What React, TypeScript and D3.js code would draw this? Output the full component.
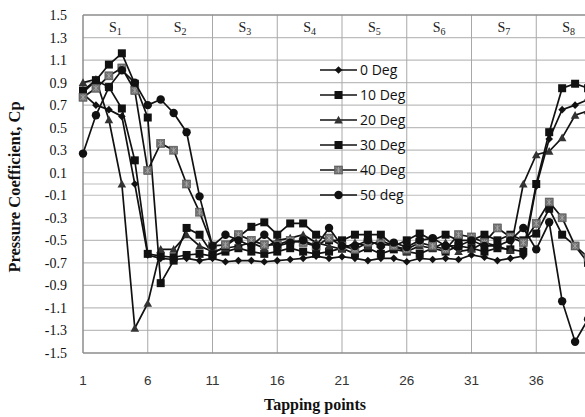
import React from "react";
import * as d3 from "d3";

const tapping = [1,2,3,4,5,6,7,8,9,10,11,12,13,14,15,16,17,18,19,20,21,22,23,24,25,26,27,28,29,30,31,32,33,34,35,36,37,38,39,40];
const xTicks = [1, 6, 11, 16, 21, 26, 31, 36];
const yTicks = [1.5, 1.3, 1.1, 0.9, 0.7, 0.5, 0.3, 0.1, -0.1, -0.3, -0.5, -0.7, -0.9, -1.1, -1.3, -1.5];
const gridY = [1.3, 1.1, 0.9, 0.7, 0.5, 0.3, 0.1, 0, -0.1, -0.3, -0.5, -0.7, -0.9, -1.1, -1.3];
const sections = ["1", "2", "3", "4", "5", "6", "7", "8"];

const deg0 = [0.80, 0.70, 0.66, 0.60, 0.00, -0.63, -0.66, -0.67, -0.66, -0.68, -0.66, -0.69, -0.68, -0.68, -0.69, -0.68, -0.67, -0.66, -0.64, -0.66, -0.645, -0.66, -0.68, -0.66, -0.66, -0.69, -0.66, -0.67, -0.66, -0.67, -0.63, -0.65, -0.68, -0.66, -0.64, -0.02, 0.40, 0.66, 0.70, 0.75];
const deg10 = [0.83, 0.92, 0.86, 0.67, 0.21, -0.62, -0.64, -0.65, -0.63, -0.62, -0.64, -0.60, -0.57, -0.60, -0.62, -0.60, -0.57, -0.60, -0.62, -0.60, -0.57, -0.62, -0.57, -0.62, -0.58, -0.60, -0.62, -0.57, -0.60, -0.55, -0.57, -0.60, -0.57, -0.58, -0.60, 0.00, 0.46, 0.85, 0.89, 0.85];
const deg20 = [0.90, 0.93, 0.57, 0.00, -1.28, -1.06, -0.58, -0.58, -0.45, -0.55, -0.60, -0.57, -0.55, -0.52, -0.57, -0.50, -0.48, -0.45, -0.52, -0.55, -0.58, -0.52, -0.55, -0.50, -0.55, -0.60, -0.55, -0.57, -0.52, -0.60, -0.58, -0.52, -0.55, -0.59, 0.00, 0.26, 0.29, 0.41, 0.61, 0.65];
const deg30 = [0.81, 0.92, 1.06, 1.16, 0.89, 0.59, -0.88, -0.68, -0.39, -0.45, -0.62, -0.55, -0.47, -0.38, -0.34, -0.45, -0.35, -0.35, -0.45, -0.50, -0.50, -0.45, -0.45, -0.45, -0.55, -0.50, -0.44, -0.50, -0.45, -0.50, -0.50, -0.45, -0.50, -0.45, -0.50, -0.44, -0.22, -0.45, -0.55, -0.70];
const deg40 = [0.77, 0.85, 0.96, 1.03, 0.83, 0.12, 0.36, 0.30, 0.00, -0.25, -0.55, -0.54, -0.45, -0.50, -0.54, -0.54, -0.50, -0.52, -0.55, -0.48, -0.55, -0.58, -0.52, -0.53, -0.55, -0.58, -0.52, -0.55, -0.58, -0.45, -0.47, -0.52, -0.39, -0.47, -0.52, -0.35, -0.16, -0.30, -0.55, -0.65];
const deg50 = [0.27, 0.61, 0.86, 1.01, 0.90, 0.70, 0.75, 0.63, 0.46, -0.11, -0.55, -0.45, -0.50, -0.55, -0.45, -0.55, -0.52, -0.50, -0.55, -0.39, -0.55, -0.55, -0.50, -0.55, -0.52, -0.56, -0.50, -0.48, -0.55, -0.55, -0.50, -0.55, -0.55, -0.50, -0.39, -0.58, -0.34, -1.04, -1.40, -1.20];

const seriesNames = ["0 Deg", "10 Deg", "20 Deg", "30 Deg", "40 Deg", "50 deg"];
const seriesValues = [deg0, deg10, deg20, deg30, deg40, deg50];
const seriesMarkers = ["diamond", "square", "triangle", "square", "graysquare", "circle"];

const W = 585, H = 417;
const x = d3.scaleLinear().domain([1, 41]).range([83, 601]);
const y = d3.scaleLinear().domain([-1.5, 1.5]).range([353, 15]);

function Marker({ type, cx, cy }: { type: string; cx: number; cy: number }) {
  if (type === "diamond") {
    const r = 3.8;
    return <path d={`M${cx},${cy - r}L${cx + r},${cy}L${cx},${cy + r}L${cx - r},${cy}Z`} fill="#111" />;
  }
  if (type === "square") {
    const s = 8;
    return <rect x={cx - s / 2} y={cy - s / 2} width={s} height={s} fill="#111" />;
  }
  if (type === "triangle") {
    const r = 4.3;
    return <path d={`M${cx},${cy - r}L${cx + r},${cy + r * 0.8}L${cx - r},${cy + r * 0.8}Z`} fill="#333" />;
  }
  if (type === "graysquare") {
    const s = 8;
    const h = s / 2;
    return (
      <g>
        <rect x={cx - h} y={cy - h} width={s} height={s} fill="#707070" stroke="#505050" strokeWidth={0.6} />
        <path d={`M${cx - h + 1.5},${cy - h + 1.5}L${cx + h - 1.5},${cy + h - 1.5}M${cx + h - 1.5},${cy - h + 1.5}L${cx - h + 1.5},${cy + h - 1.5}M${cx},${cy - h + 1}L${cx},${cy + h - 1}`} stroke="#a8a8a8" strokeWidth={0.9} />
      </g>
    );
  }
  return <circle cx={cx} cy={cy} r={4.2} fill="#111" />;
}

export default function App() {
  const line = d3.line<number>().x((_, i) => x(tapping[i])).y((d) => y(d));
  const legendX1 = 320, legendX2 = 357, legendTextX = 360;
  const legendY = [70, 95, 120, 145, 170, 195];
  return (
    <svg width={W} height={H} style={{ position: "absolute", left: 0, top: 0, background: "#fff" }}>
      <rect x={0} y={0} width={W} height={H} fill="#fff" />
      {gridY.map((v) => (
        <line key={"g" + v} x1={x(1)} x2={W} y1={y(v)} y2={y(v)} stroke="#bdbdbd" strokeWidth={1.2} />
      ))}
      {xTicks.slice(1).map((t) => (
        <line key={"v" + t} x1={x(t)} x2={x(t)} y1={y(1.5)} y2={y(-1.5)} stroke="#a8a8a8" strokeWidth={1} />
      ))}
      <line x1={x(1)} x2={W} y1={y(1.5)} y2={y(1.5)} stroke="#8c8c8c" strokeWidth={1.5} />
      <line x1={x(1)} x2={W} y1={y(-1.5)} y2={y(-1.5)} stroke="#8c8c8c" strokeWidth={1.5} />
      <line x1={x(1)} x2={x(1)} y1={y(1.5)} y2={y(-1.5)} stroke="#8c8c8c" strokeWidth={1.5} />
      {sections.map((s, i) => (
        <text key={"s" + s} x={x(3.5 + 5 * i)} y={32} textAnchor="middle" fontFamily="'Liberation Serif', serif" fontSize={14} fill="#222">
          S<tspan fontSize={10} dy={3}>{s}</tspan>
        </text>
      ))}
      {yTicks.map((v) => (
        <text key={"y" + v} x={67} y={y(v) + 5} textAnchor="end" fontFamily="'Liberation Serif', serif" fontSize={14} fill="#111">
          {v.toFixed(1)}
        </text>
      ))}
      {xTicks.map((t) => (
        <text key={"x" + t} x={x(t)} y={385} textAnchor="middle" fontFamily="'Liberation Sans', Arial, sans-serif" fontSize={13.5} fill="#333">
          {t}
        </text>
      ))}
      <text transform={`translate(20,187) rotate(-90)`} textAnchor="middle" fontFamily="'Liberation Serif', serif" fontWeight="bold" fontSize={16.5} fill="#111">
        Pressure Coefficient, Cp
      </text>
      <text x={315} y={410} textAnchor="middle" fontFamily="'Liberation Serif', serif" fontWeight="bold" fontSize={16} fill="#111">
        Tapping points
      </text>
      {seriesValues.map((vals, si) => (
        <g key={"ser" + si}>
          <path d={line(vals) || ""} fill="none" stroke="#111" strokeWidth={1.7} />
          {vals.map((v, i) => (
            <Marker key={i} type={seriesMarkers[si]} cx={x(tapping[i])} cy={y(v)} />
          ))}
        </g>
      ))}
      {seriesNames.map((n, i) => (
        <g key={"l" + n}>
          <line x1={legendX1} x2={legendX2} y1={legendY[i]} y2={legendY[i]} stroke="#111" strokeWidth={1.5} />
          <Marker type={seriesMarkers[i]} cx={(legendX1 + legendX2) / 2} cy={legendY[i]} />
          <text x={legendTextX} y={legendY[i] + 5} fontFamily="'Open Sans', 'Liberation Sans', sans-serif" fontSize={14} fill="#111">
            {n}
          </text>
        </g>
      ))}
    </svg>
  );
}
